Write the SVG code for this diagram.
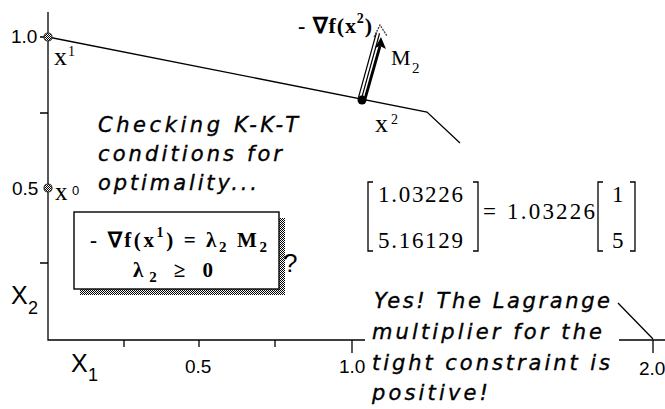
<svg xmlns="http://www.w3.org/2000/svg" width="665" height="409" viewBox="0 0 665 409">
<style>
.ax{stroke:#000;stroke-width:1.3;fill:none}
.tick{font-family:"Liberation Sans",Arial,sans-serif;font-size:19px;fill:#000}
.axl{font-family:"Liberation Sans",Arial,sans-serif;fill:#000}
.note{font-family:"DejaVu Sans",sans-serif;font-style:italic;font-size:21px;fill:#000;stroke:#000;stroke-width:0.35}
.ser{font-family:"Liberation Serif","Times New Roman",serif;fill:#000}
.num{font-family:"Liberation Serif","Times New Roman",serif;font-size:23px;fill:#000}
.br{stroke:#000;stroke-width:1.3;fill:none}
</style>
<defs>
<pattern id="dither" width="2" height="2" patternUnits="userSpaceOnUse">
<rect width="2" height="2" fill="#fff"/>
<rect x="0" y="0" width="1" height="1" fill="#000"/>
<rect x="1" y="1" width="1" height="1" fill="#000"/>
</pattern>
</defs>
<rect width="665" height="409" fill="#fff"/>

<g id="axes">
<path class="ax" d="M48,12 V340 H365 M619,340 H665"/>
<path class="ax" d="M40,37 H48 M40,113 H48 M40,263 H48 M124,340 V347 M199,340 V347 M275,340 V347 M352,340 V353 M653,340 V353"/>
<text class="tick" x="11" y="43">1.0</text>
<text class="tick" x="12" y="195">0.5</text>
<text class="tick" x="185" y="373">0.5</text>
<text class="tick" x="339" y="373">1.0</text>
<text class="tick" x="639" y="375">2.0</text>
<text class="axl" x="11" y="304" font-size="25">X</text>
<text class="axl" x="28" y="314" font-size="18">2</text>
<text class="axl" x="71" y="372" font-size="25">X</text>
<text class="axl" x="88" y="381" font-size="18">1</text>
</g>

<g id="constraints">
<path class="ax" d="M48,37 L427,112 L460,143 M618,303 L653,339"/>
</g>

<g id="connectors">
<line x1="360" y1="98" x2="378" y2="33" stroke="#000" stroke-width="4.5"/>
<line x1="360" y1="98" x2="378" y2="33" stroke="#fff" stroke-width="2"/>
<path d="M374,37 L380,25 L387,36" fill="none" stroke="#444" stroke-width="1.3" stroke-dasharray="2,1"/>
<line x1="365" y1="99" x2="380" y2="46" stroke="#000" stroke-width="2.8"/>
<path d="M381,37 L386,49 L380,46 L375,48 Z" fill="#000"/>
</g>

<g id="point-x1">
<circle cx="48" cy="37" r="4" fill="url(#dither)" stroke="#333" stroke-width="1.2"/>
<text class="ser" x="54" y="65" font-size="26">x</text>
<text class="ser" x="68" y="56" font-size="14">1</text>
</g>

<g id="point-x0">
<circle cx="48" cy="188" r="4" fill="url(#dither)" stroke="#333" stroke-width="1.2"/>
<text class="ser" x="55" y="200" font-size="25">x</text>
<text class="axl" x="72" y="195" font-size="13">0</text>
</g>

<g id="point-x2">
<circle cx="362" cy="100" r="4.5" fill="#000"/>
<text class="ser" x="375" y="132" font-size="26">x</text>
<text class="ser" x="391" y="124" font-size="14">2</text>
</g>

<g id="label-grad">
<text class="ser" x="298" y="33" font-size="22" font-weight="bold" textLength="74" lengthAdjust="spacing">- ∇f(x<tspan dy="-10" font-size="14">2</tspan><tspan dy="10">)</tspan></text>
</g>

<g id="label-M2">
<text class="ser" x="391" y="65" font-size="22">M</text>
<text class="ser" x="412" y="73" font-size="15">2</text>
</g>

<g id="note-checking">
<text class="note" x="98" y="132" textLength="200" lengthAdjust="spacing">Checking K-K-T</text>
<text class="note" x="98" y="161" textLength="184" lengthAdjust="spacing">conditions for</text>
<text class="note" x="98" y="190" textLength="159" lengthAdjust="spacing">optimality...</text>
</g>

<g id="kkt-box">
<rect x="80" y="218" width="205" height="77" fill="url(#dither)"/>
<rect x="74" y="212" width="205" height="77" fill="#fff" stroke="#000" stroke-width="1.4"/>
<text class="ser" x="90" y="247" font-size="21" font-weight="bold" textLength="177" lengthAdjust="spacing">- ∇f(x<tspan dy="-10" font-size="14">1</tspan><tspan dy="10">) = λ</tspan><tspan dy="5" font-size="15">2</tspan><tspan dy="-5"> M</tspan><tspan dy="5" font-size="15">2</tspan></text>
<text class="ser" x="133" y="277" font-size="21" font-weight="bold" textLength="80" lengthAdjust="spacing">λ<tspan dy="5" font-size="15">2</tspan><tspan dy="-5"> ≥ 0</tspan></text>
<text class="axl" x="283" y="272" font-size="26">?</text>
</g>

<g id="equation">
<path class="br" d="M373,182 H368 V251 H373 M473,182 H478 V251 H473 M603,182 H598 V251 H603 M630,182 H635 V251 H630"/>
<text class="num" x="378" y="202" textLength="85" lengthAdjust="spacing">1.03226</text>
<text class="num" x="378" y="248" textLength="85" lengthAdjust="spacing">5.16129</text>
<text class="num" x="483" y="219">=</text>
<text class="num" x="507" y="219" textLength="88" lengthAdjust="spacing">1.03226</text>
<text class="num" x="612" y="202">1</text>
<text class="num" x="612" y="248">5</text>
</g>

<g id="note-yes">
<text class="note" x="374" y="308" textLength="236" lengthAdjust="spacing">Yes! The Lagrange</text>
<text class="note" x="372" y="339" textLength="230" lengthAdjust="spacing">multiplier for the</text>
<text class="note" x="372" y="370" textLength="238" lengthAdjust="spacing">tight constraint is</text>
<text class="note" x="372" y="400" textLength="116" lengthAdjust="spacing">positive!</text>
</g>
</svg>
